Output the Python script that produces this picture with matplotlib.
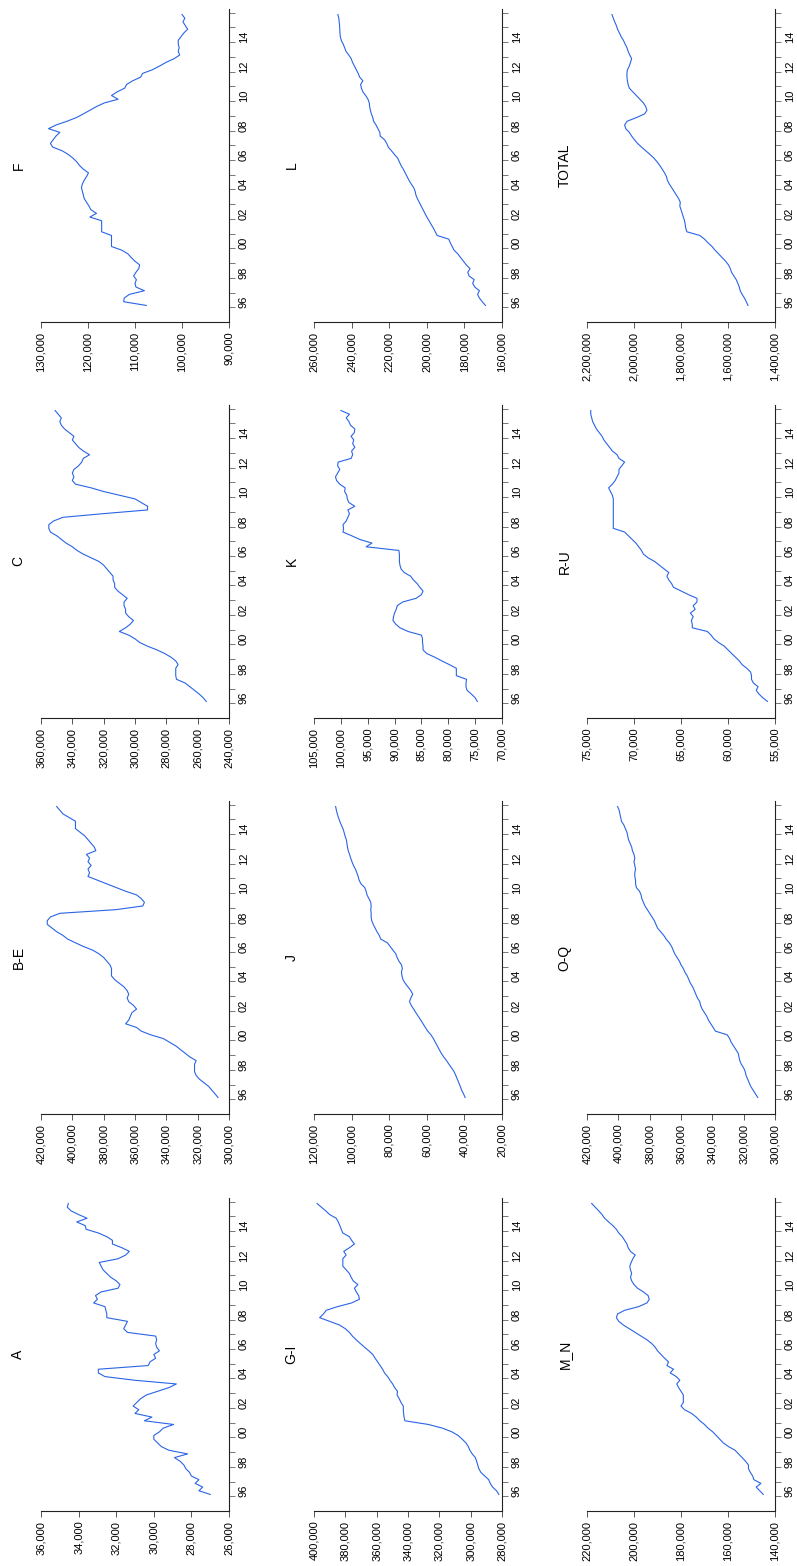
import numpy as np
import matplotlib
matplotlib.use("Agg")
import matplotlib.pyplot as plt

plt.rcParams['font.family'] = ['Liberation Sans', 'DejaVu Sans']

# quarterly observations 1996Q1 .. 2015Q4, values in thousands
quarters = np.arange(80)
t = 1996 + (quarters + 0.5) / 4

A = [27.0, 27.6, 27.4, 27.8, 27.6, 28.0, 28.1, 28.3, 28.4, 28.6, 28.9, 28.2,
     29.2, 29.6, 29.8, 30.0, 30.0, 29.7, 29.5, 28.95, 30.5, 30.1, 31.0, 30.8,
     31.1, 30.9, 30.7, 30.4, 29.8, 29.2, 28.8, 31.0, 32.6, 32.95, 32.95, 30.3,
     30.2, 29.9, 30.0, 29.7, 29.85, 29.9, 29.85, 29.9, 31.4, 31.6, 31.5, 31.4,
     32.5, 32.5, 32.55, 32.6, 33.2, 33.0, 33.1, 32.8, 31.9, 31.8, 32.0, 32.3,
     32.5, 32.7, 32.8, 32.9, 31.9, 31.5, 31.3, 31.7, 32.2, 32.2, 32.5, 32.95,
     33.6, 33.65, 34.1, 33.55, 34.0, 34.4, 34.6, 34.55]
BE = [307, 309, 311, 313, 316, 319, 321, 322, 322, 322, 321, 325,
      328, 331, 334, 338, 342, 350, 356, 359, 366, 364, 363, 362,
      359, 361, 364, 365, 364, 365, 367, 370, 373, 375, 375, 375,
      376, 378, 380, 383, 387, 393, 398, 403, 406, 410, 413, 416,
      416, 414, 408, 372, 355, 354, 356, 359, 366, 372, 378, 384,
      390, 389, 390, 388, 390, 389, 391, 385, 386, 388, 390, 392,
      395, 398, 398, 398, 402, 406, 408, 410]
C = [254.5, 256.5, 259, 262, 265, 268, 273.5, 274, 274, 274, 272.5, 274,
     277, 281, 286, 292, 297, 300, 304, 310, 306, 303, 301, 304,
     306, 306, 307, 307, 305, 308, 311, 313, 313, 314, 314, 316,
     318, 320, 323, 328, 333, 337, 340, 344, 347, 350, 354, 355,
     355, 352, 346, 320, 292, 292, 296, 300, 310, 320, 328, 338,
     340, 339, 340, 339, 336, 334, 333, 329, 333, 336, 338, 340,
     339, 342, 345, 347, 348, 347, 349, 351]
F = [107.6, 112.4, 112.3, 111.2, 108.0, 109.8, 110.0, 109.7, 110.3, 109.8, 109.2, 109.0,
     110.0, 110.8, 111.5, 112.8, 115.0, 115.0, 115.0, 115.0, 117.1, 117.1, 117.1, 117.1,
     119.6, 118.2, 119.4, 119.8, 120.3, 120.8, 121.0, 121.2, 121.4, 121.2, 120.8, 120.3,
     119.9, 121.0, 121.8, 122.4, 123.2, 124.2, 125.5, 127.5, 128.0, 127.4, 126.8, 126.0,
     128.4, 126.8, 124.5, 122.5, 121.0, 119.6, 118.2, 116.5, 113.6, 115.0, 113.8, 112.2,
     111.8, 110.5, 108.8, 108.4, 106.3, 104.8, 103.4, 101.7, 100.5, 100.8, 100.6, 100.8,
     100.8, 100.2, 99.6, 98.8, 99.3, 99.8, 99.4, 100.0]
GI = [282.0, 283.5, 286.0, 287.5, 288.5, 291.0, 293.5, 294.8, 295.5, 296.2, 297.0, 299.0,
      300.5, 301.5, 303.0, 305.4, 308.0, 312.0, 318.0, 327.0, 342.0, 342.5, 342.8, 343.0,
      343.0, 344.5, 345.6, 347.0, 346.7, 348.5, 349.8, 351.5, 353.0, 355.0, 356.2, 357.8,
      359.4, 361.0, 362.5, 365.0, 367.8, 370.5, 373.1, 375.5, 377.4, 380.0, 383.7, 390.0,
      396.4, 394.0, 392.2, 385.0, 376.0, 371.0, 371.5, 373.0, 374.2, 372.0, 375.0, 376.3,
      377.4, 379.5, 381.6, 381.6, 381.6, 379.5, 381.0, 377.4, 374.2, 376.0, 377.4, 381.6,
      382.6, 383.5, 384.5, 385.8, 390.0, 392.5, 395.3, 398.0]
J = [39.6, 40.5, 41.5, 42.2, 43.0, 43.8, 44.6, 45.5, 46.8, 48.2, 49.5, 51.0,
     52.3, 53.4, 54.4, 55.5, 56.5, 57.8, 59.5, 60.8, 62.0, 63.2, 64.5, 65.8,
     67.0, 68.3, 69.2, 68.5, 67.5, 68.5, 70.0, 71.5, 72.7, 73.2, 73.5, 73.0,
     73.5, 74.8, 75.8, 76.5, 78.0, 79.5, 81.0, 84.5, 85.3, 86.5, 87.5, 88.5,
     89.3, 89.6, 89.6, 89.8, 89.6, 89.8, 90.8, 91.8, 92.3, 93.0, 95.0, 96.0,
     96.5, 97.2, 98.0, 99.0, 99.8, 100.5, 101.1, 101.8, 102.2, 102.5, 102.8, 103.5,
     104.0, 104.6, 105.5, 106.3, 107.0, 107.6, 108.1, 108.5]
K = [74.6, 75.0, 75.7, 76.5, 76.7, 76.7, 76.6, 78.5, 78.5, 78.5, 79.8, 81.2,
     82.5, 84.0, 84.7, 84.7, 84.8, 84.8, 85.0, 87.5, 89.0, 89.8, 90.3, 90.2,
     90.0, 89.7, 89.5, 88.5, 86.0, 85.0, 84.7, 85.3, 85.8, 86.5, 87.0, 88.2,
     88.8, 89.0, 89.1, 89.1, 89.1, 89.2, 95.3, 94.2, 96.5, 98.0, 99.6, 99.5,
     99.6, 99.0, 98.7, 98.4, 98.7, 97.4, 98.5, 98.8, 98.9, 99.3, 99.2, 100.2,
     100.8, 101.0, 100.6, 100.2, 100.6, 100.5, 98.1, 97.8, 98.0, 97.4, 97.8, 97.6,
     98.1, 97.5, 97.4, 98.2, 98.5, 99.0, 98.4, 100.0]
L = [168.8, 170.5, 172.0, 173.0, 172.0, 174.5, 175.6, 174.8, 177.5, 178.2, 177.0, 179.0,
     180.5, 182.0, 183.5, 185.5, 186.5, 187.5, 188.3, 194.5, 195.5, 196.5, 197.7, 198.8,
     200.0, 201.0, 202.0, 203.0, 204.0, 205.0, 205.8, 206.2, 207.0, 208.3, 209.5, 210.5,
     211.5, 212.5, 213.7, 214.6, 215.5, 217.2, 218.8, 220.5, 221.3, 222.5, 224.8, 225.0,
     226.0, 227.0, 228.3, 228.7, 229.5, 230.0, 230.4, 230.6, 231.3, 232.5, 234.0, 234.8,
     235.2, 234.0, 235.7, 236.5, 237.5, 238.5, 239.5, 240.2, 241.5, 243.0, 243.7, 244.5,
     245.5, 246.0, 246.2, 246.3, 246.4, 246.6, 246.8, 247.3]
MN = [145.0, 146.5, 148.0, 146.0, 149.0, 149.5, 150.5, 151.3, 151.3, 152.5, 154.0, 155.5,
      157.0, 159.8, 162.0, 163.5, 165.0, 166.5, 168.5, 170.0, 172.0, 173.5, 175.5, 178.5,
      180.0, 179.0, 179.0, 179.0, 180.0, 181.0, 181.8, 180.5, 182.0, 184.6, 183.2, 186.0,
      185.3, 187.0, 188.5, 190.0, 191.0, 192.5, 194.5, 197.0, 199.5, 202.0, 204.5, 206.5,
      207.5, 207.0, 204.0, 198.0, 194.5, 193.5, 194.0, 196.0, 198.5, 200.0, 201.0, 201.5,
      201.0, 201.5, 201.8, 201.2, 200.5, 199.5, 201.5, 202.5, 203.0, 204.0, 205.0, 206.5,
      207.5, 209.0, 210.8, 212.5, 213.6, 215.0, 216.5, 218.0]
OQ = [311.0, 312.5, 314.0, 315.5, 316.5, 317.5, 318.5, 319.0, 320.0, 321.5, 322.5, 323.0,
      323.5, 325.0, 326.5, 328.0, 329.0, 330.5, 338.0, 339.5, 341.0, 342.5, 343.5, 345.0,
      346.5, 347.5, 348.0, 349.5, 350.5, 351.5, 352.5, 354.0, 355.0, 356.0, 357.5, 358.5,
      360.0, 361.0, 362.5, 364.0, 365.0, 366.0, 367.5, 369.5, 371.0, 373.0, 375.0, 376.0,
      377.0, 378.5, 380.0, 381.5, 383.0, 384.0, 385.0, 385.5, 386.5, 388.5, 389.0, 389.0,
      389.5, 389.5, 389.0, 389.5, 390.0, 389.5, 390.0, 391.0, 391.5, 392.5, 393.5, 394.0,
      394.5, 395.5, 396.5, 398.0, 398.5, 399.0, 399.5, 400.5]
RU = [55.8, 56.3, 56.7, 57.0, 56.8, 57.3, 57.5, 57.5, 57.6, 58.0, 58.5, 58.8,
      59.2, 59.6, 60.0, 60.4, 61.0, 61.5, 61.8, 62.2, 63.8, 63.8, 63.9, 63.7,
      64.0, 63.5, 63.7, 63.3, 63.3, 64.2, 65.0, 65.8, 66.0, 66.3, 66.5, 66.3,
      66.8, 67.3, 67.8, 68.5, 69.0, 69.2, 69.5, 69.8, 70.2, 70.6, 71.0, 72.2,
      72.2, 72.2, 72.2, 72.2, 72.2, 72.2, 72.2, 72.2, 72.3, 72.5, 72.7, 72.3,
      72.0, 71.8, 71.6, 71.6, 71.3, 71.0, 71.6, 71.8, 72.3, 72.6, 72.9, 73.2,
      73.4, 73.7, 74.0, 74.2, 74.4, 74.5, 74.6, 74.6]
TOTAL = [1515, 1522, 1530, 1540, 1548, 1552, 1558, 1565, 1575, 1585, 1590, 1598,
         1610, 1625, 1640, 1655, 1668, 1685, 1700, 1720, 1775, 1780, 1782, 1785,
         1790, 1795, 1800, 1805, 1803, 1810, 1820, 1830, 1840, 1850, 1858, 1862,
         1870, 1880, 1890, 1902, 1915, 1932, 1950, 1968, 1985, 1998, 2010, 2020,
         2035, 2040, 2030, 1990, 1955, 1945, 1950, 1960, 1975, 1990, 2005, 2020,
         2025, 2028, 2030, 2030, 2028, 2020, 2015, 2010, 2018, 2025, 2030, 2038,
         2045, 2055, 2062, 2070, 2075, 2082, 2088, 2094]

# (title, data, axis min, axis max, tick step) in thousands
panels = [
    [("A", A, 26, 36, 2), ("B-E", BE, 300, 420, 20), ("C", C, 240, 360, 20), ("F", F, 90, 130, 10)],
    [("G-I", GI, 280, 400, 20), ("J", J, 20, 120, 20), ("K", K, 70, 105, 5), ("L", L, 160, 260, 20)],
    [("M_N", MN, 140, 220, 20), ("O-Q", OQ, 300, 420, 20), ("R-U", RU, 55, 75, 5), ("TOTAL", TOTAL, 1400, 2200, 200)],
]
year_ticks = np.arange(1996, 2017)
year_labels = ["96", "98", "00", "02", "04", "06", "08", "10", "12", "14"]
year_label_pos = np.arange(1996.5, 2015, 2)

W, H = 797, 1566
fig = plt.figure(figsize=(W / 100, H / 100), dpi=100)

col_left = [41, 314, 587]
row_bottom = [1511, 1114, 718, 322]  # A row first (bottom of page)
pw, ph = 188, 313
line_col = "#2a64e6"

for c, col in enumerate(panels):
    for r, (name, vals, lo, hi, step) in enumerate(col):
        ax = fig.add_axes([col_left[c] / W, 1 - row_bottom[r] / H, pw / W, ph / H])
        ax.plot(np.array(vals) * 1000, t, color=line_col, lw=0.8)
        ax.set_xlim(hi * 1000, lo * 1000)
        ax.set_ylim(1995, 2016.25)
        for s in ["top", "left"]:
            ax.spines[s].set_visible(False)
        for s in ["bottom", "right"]:
            ax.spines[s].set_color("#222222")
            ax.spines[s].set_linewidth(0.8)
        xt = np.arange(lo, hi + step / 2, step)
        ax.set_xticks(xt * 1000)
        ax.set_xticklabels([f"{int(v * 1000):,}" for v in xt], rotation=90)
        ax.xaxis.set_ticks_position("bottom")
        ax.tick_params(axis="x", length=4, width=0.7, color="#555555", pad=3, labelsize=8)
        ax.yaxis.set_ticks_position("right")
        ax.set_yticks(year_ticks)
        ax.set_yticklabels([])
        ax.set_yticks(year_label_pos, minor=True)
        ax.set_yticklabels(year_labels, minor=True, rotation=90)
        ax.tick_params(axis="y", which="major", length=4, width=0.7, color="#777777")
        ax.tick_params(axis="y", which="minor", length=0, pad=7, labelsize=8)
        ax.text(-0.12, 0.5, name, transform=ax.transAxes, rotation=90,
                ha="center", va="center", fontsize=10)

fig.savefig("out.png", dpi=100)
